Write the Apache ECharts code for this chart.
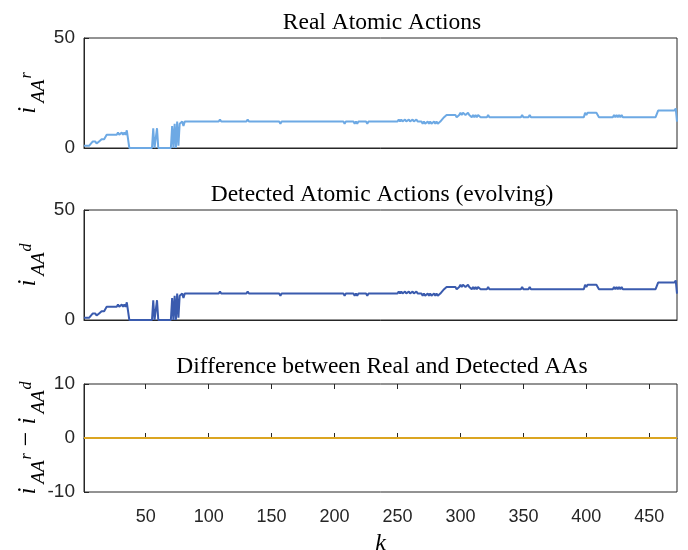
<!DOCTYPE html>
<html>
<head>
<meta charset="utf-8">
<script src="https://cdn.jsdelivr.net/npm/echarts@6/dist/echarts.min.js"></script>
<style>
  html, body { margin: 0; padding: 0; background: #fff; }
  #chart { width: 688px; height: 550px; }
</style>
</head>
<body>
<div id="chart"></div>
<script>
// sample index k and number of atomic actions, listed at the points where the value changes
var realK = [1, 5, 8, 10, 11, 13, 15, 17, 19, 27, 28, 29, 31, 32, 33, 34, 35, 36, 37,
    55, 56, 57, 58, 59, 60, 70, 71, 72, 73, 74, 75, 76, 77, 79, 80, 81,
    108, 109, 110, 130, 131, 132, 156, 157, 158, 207, 208, 209, 215, 216, 217, 218, 219,
    225, 226, 227, 250, 251, 252, 253, 254, 256, 257, 259, 260, 262, 263, 265, 266,
    269, 270, 271, 272, 273, 274, 275, 276, 277, 278, 279, 280, 281, 282, 283, 284,
    285, 287, 289, 296, 297, 299, 300, 301, 302, 303, 304, 306, 307, 309, 310, 311, 312, 313, 314, 316,
    321, 322, 323, 348, 349, 350, 354, 355, 356, 398, 399, 400, 401, 408, 410,
    421, 422, 423, 424, 425, 426, 427, 428, 429, 455, 457, 470, 471, 472];
var realV = [1, 1, 3, 3, 2, 3, 4, 4, 6, 6, 7, 6, 7, 6, 7, 6, 8, 8, 0,
    0, 9, 0, 0, 9, 0, 0, 10, 0, 11, 0, 12, 1, 11, 12, 10, 12,
    12, 13, 12, 12, 13, 12, 12, 11, 12, 12, 11, 12, 12, 11, 12, 11, 12,
    12, 11, 12, 12, 13, 12, 13, 12, 13, 12, 13, 12, 13, 12, 13, 12,
    12, 11, 12, 11, 11, 12, 11, 12, 11, 11, 12, 11, 12, 11, 11, 12,
    12, 14, 15, 15, 14, 15, 16, 15, 16, 16, 15, 16, 15, 14, 15, 14, 15, 14, 15, 14,
    14, 15, 14, 14, 15, 14, 14, 15, 14, 14, 16, 15, 16, 16, 14,
    14, 15, 14, 15, 14, 15, 14, 15, 14, 14, 17, 17, 18, 12];
// detected actions match the real ones at every k
var detectedK = realK;
var detectedV = realV.slice();
// difference real - detected
var diffK = [1, 472];
var diffV = [0, 0];

var xTicks = [50, 100, 150, 200, 250, 300, 350, 400, 450];

var chart = echarts.init(document.getElementById('chart'));

var axisColor = '#262626';
var serif = 'Liberation Serif';
var sans = 'Liberation Sans';

function pairs(ks, vs) {
    return ks.map(function (k, i) { return [k, vs[i]]; });
}

// ---- rotated math labels (i_{AA^r} etc.) built from text pieces ----
var measureCtx = document.createElement('canvas').getContext('2d');
function textWidth(size, italic, s) {
    measureCtx.font = (italic ? 'italic ' : '') + size + 'px "' + serif + '"';
    return measureCtx.measureText(s).width;
}
// each piece: text, font size, italic, baseline (distance from left edge of page), gap after
function mathPieces(sup) {
    return [
        { t: 'i', size: 25, italic: true, base: 33.5, gap: 4 },
        { t: 'AA', size: 19, italic: true, base: 43, gap: 1 },
        { t: sup, size: 16, italic: true, base: 29.5, gap: 0 }
    ];
}
function mathLabel(pieces, cy) {
    var total = 0;
    pieces.forEach(function (p) { p.w = textWidth(p.size, p.italic, p.t); total += p.w + p.gap; });
    var x = 0;
    var children = pieces.map(function (p) {
        var el = {
            type: 'text', x: x, y: p.base - 0.2 * p.size,
            style: { text: p.t, fontFamily: serif, fontSize: p.size, fontStyle: p.italic ? 'italic' : 'normal',
                     fill: '#000', align: 'left', verticalAlign: 'middle' }
        };
        x += p.w + p.gap;
        return el;
    });
    return { type: 'group', x: 0, y: cy + total / 2, rotation: Math.PI / 2, children: children };
}

function diffPieces() {
    var a = mathPieces('r');
    a[a.length - 1].gap = 7;
    var minus = { t: '−', size: 26, italic: false, base: 32, gap: 7 };
    return a.concat([minus], mathPieces('d'));
}

function xAxis(idx, labels) {
    return {
        type: 'value', gridIndex: idx, min: 1, max: 472,
        axisLine: { show: true, lineStyle: { color: axisColor, width: 1 } },
        axisTick: labels ? { show: true, inside: true, length: 5, customValues: xTicks, lineStyle: { color: axisColor } } : { show: false },
        axisLabel: labels ? { show: true, customValues: xTicks, margin: 16, fontSize: 18, fontFamily: sans, color: axisColor } : { show: false },
        splitLine: { show: false },
        name: labels ? 'k' : '',
        nameLocation: 'middle', nameGap: 40,
        nameTextStyle: { fontFamily: serif, fontStyle: 'italic', fontSize: 24, color: '#000' }
    };
}

// ticks along the top edge of the last panel
var topTickAxis = {
    type: 'value', gridIndex: 2, min: 1, max: 472, position: 'top',
    axisLine: { show: false },
    axisTick: { show: true, inside: true, length: 5, customValues: xTicks, lineStyle: { color: axisColor } },
    axisLabel: { show: false },
    splitLine: { show: false }
};

function yAxis(idx, min, max, step) {
    return {
        type: 'value', gridIndex: idx, min: min, max: max, interval: step,
        axisLine: { show: true, lineStyle: { color: axisColor, width: 1 } },
        axisTick: { show: true, inside: true, length: 5, lineStyle: { color: axisColor } },
        axisLabel: { fontSize: 19, fontFamily: sans, color: axisColor, margin: 9 },
        splitLine: { show: false }
    };
}

var titleStyle = { fontFamily: serif, fontWeight: 'normal', fontSize: 23.5, color: '#000' };

function grid(top, height) {
    return { left: 84, right: 11, top: top, height: height, show: true, borderColor: axisColor, borderWidth: 1,
             containLabel: false, outerBoundsMode: 'none' };
}

chart.setOption({
    animation: false,
    backgroundColor: '#fff',
    title: [
        { text: 'Real Atomic Actions', left: 377, top: 6, textAlign: 'center', textStyle: titleStyle },
        { text: 'Detected Atomic Actions (evolving)', left: 377, top: 178, textAlign: 'center', textStyle: titleStyle },
        { text: 'Difference between Real and Detected AAs', left: 377, top: 350, textAlign: 'center', textStyle: titleStyle }
    ],
    grid: [grid(38, 110), grid(210, 110), grid(384, 108)],
    xAxis: [xAxis(0, false), xAxis(1, false), xAxis(2, true), topTickAxis],
    yAxis: [yAxis(0, 0, 50, 50), yAxis(1, 0, 50, 50), yAxis(2, -10, 10, 10)],
    graphic: [
        mathLabel(mathPieces('r'), 93),
        mathLabel(mathPieces('d'), 265),
        mathLabel(diffPieces(), 438)
    ],
    series: [
        { type: 'line', xAxisIndex: 0, yAxisIndex: 0, data: pairs(realK, realV), showSymbol: false,
          lineStyle: { color: '#6DA9E4', width: 2 }, itemStyle: { color: '#6DA9E4' } },
        { type: 'line', xAxisIndex: 1, yAxisIndex: 1, data: pairs(detectedK, detectedV), showSymbol: false,
          lineStyle: { color: '#3A5BAE', width: 2 }, itemStyle: { color: '#3A5BAE' } },
        { type: 'line', xAxisIndex: 2, yAxisIndex: 2, data: pairs(diffK, diffV), showSymbol: false,
          lineStyle: { color: '#DBA521', width: 2 }, itemStyle: { color: '#DBA521' } }
    ]
});
</script>
</body>
</html>
